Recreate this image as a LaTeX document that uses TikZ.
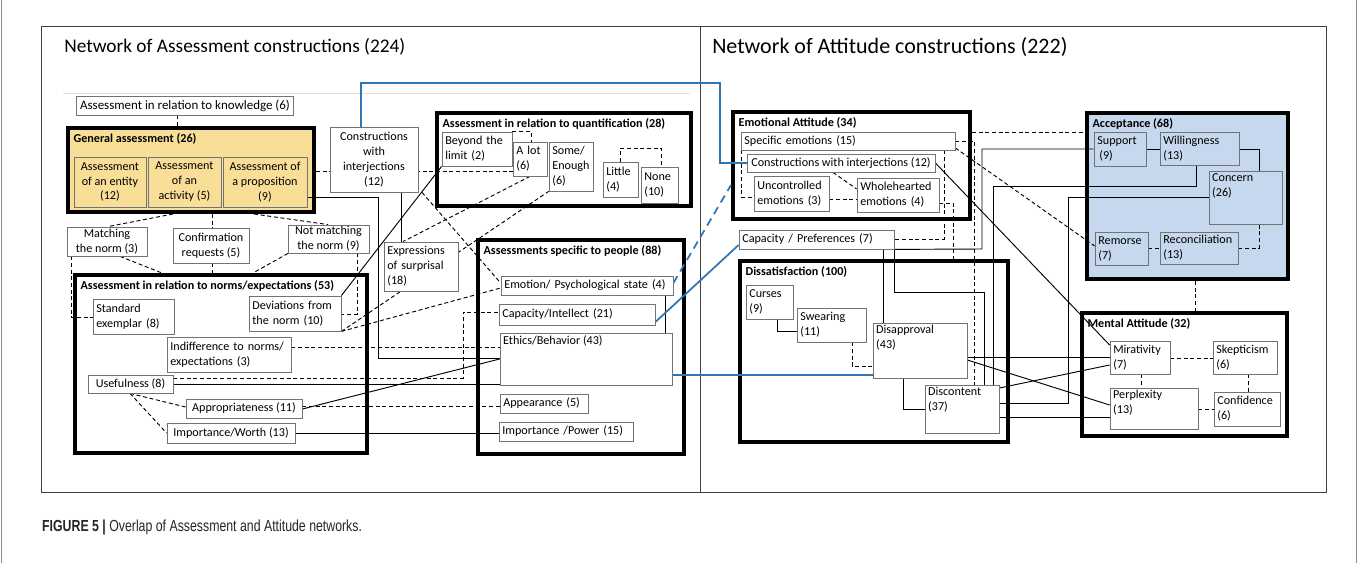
\documentclass[tikz,border=0pt]{standalone}
\usepackage{fontspec}
\setmainfont{Carlito}
\newfontfamily\capfont{Liberation Sans}
\hyphenpenalty=10000 \exhyphenpenalty=10000
\definecolor{ylw}{RGB}{249,222,152}
\definecolor{lblue}{RGB}{197,216,237}
\definecolor{bln}{RGB}{46,117,182}
\newcommand\lbl{\fontsize{9.1}{11.2}\selectfont}
\newcommand\lblb{\fontsize{9.1}{11.2}\selectfont\bfseries}
\pgfdeclarelayer{bg}\pgfdeclarelayer{fg}\pgfsetlayers{bg,main,fg}
\newcommand\bx[7][]{%
 \pgfmathsetmacro\bw{(#5-#3)*0.75}%
 \pgfmathsetmacro\bh{(#6-#4)*0.75}%
 \pgfmathsetmacro\tw{max(\bw-5,1)}%
 \node[bx,minimum width=\bw pt,minimum height=\bh pt,#1] (#2) at ({(#3+#5)/2},{(#4+#6)/2}) {#7};}
\tikzset{
 bx/.style={draw=black!55, line width=0.6pt, fill=white, inner xsep=2.5pt, inner ysep=1pt, align=center, font=\lbl},
 L/.style={text width=\tw pt, align=left},
 grp/.style={draw=black, line width=3pt},
 gt/.style={anchor=north west, font=\lblb, inner sep=0pt, xshift=5.5pt, yshift=-5.5pt},
 lt/.style={anchor=north west, font=\lbl, align=left, inner xsep=2.5pt, inner ysep=2pt},
 con/.style={line width=0.7pt, black},
 dsh/.style={con, dash pattern=on 3pt off 2pt},
 blu/.style={line width=1.3pt, draw=bln},
 bldash/.style={blu, dash pattern=on 6pt off 4pt},
 ttl/.style={anchor=west, inner sep=0pt},
}
\begin{document}
\begin{tikzpicture}[x=0.75pt,y=-0.75pt]
\useasboundingbox (0,0) rectangle (1357,563);
\begin{pgfonlayer}{bg}
\fill[white] (0,0) rectangle (1357,563);
\end{pgfonlayer}
\draw[black!45, line width=0.5pt] (1,0) -- (1,563) (1356,0) -- (1356,563);
\draw[black!75, line width=0.6pt] (41,26) rectangle (1326,492) (700,26) -- (700,492);
\draw[black!12, line width=0.6pt] (63,93) -- (690,93);
\node[ttl, font=\fontsize{14.5}{16}\selectfont] (t1) at (64,47) {Network of Assessment constructions (224)};
\node[ttl, font=\fontsize{16.5}{18}\selectfont] (t2) at (712,47) {Network of Attitude constructions (222)};

% groups
\begin{pgfonlayer}{bg}
\bx[grp, fill=ylw, label={[gt]north west:General assessment (26)}]{ga}{68}{128}{314}{212}{}
\bx[grp, fill=none, label={[gt]north west:Assessment in relation to quantification (28)}]{quant}{437}{113}{691}{206}{}
\bx[grp, fill=none, label={[gt]north west:Assessment in relation to norms/expectations (53)}]{norms}{75}{275}{367}{453}{}
\bx[grp, fill=none, label={[gt]north west:Assessments specific to people (88)}]{people}{478}{240}{684}{454}{}
\bx[grp, fill=none, label={[gt]north west:Emotional Attitude (34)}]{emot}{733}{112}{970}{219}{}
\bx[grp, fill=none, label={[gt]north west:Dissatisfaction (100)}]{dis}{740}{261}{1008}{442}{}
\bx[grp, fill=lblue, label={[gt]north west:Acceptance (68)}]{acc}{1087}{113}{1288}{279}{}
\bx[grp, fill=none, label={[gt]north west:Mental Attitude (32)}]{ment}{1082}{313}{1287}{436}{}
\end{pgfonlayer}

% boxes
\begin{pgfonlayer}{fg}
\bx[font=\fontsize{9.7}{12}\selectfont]{know}{77}{96}{293}{115}{Assessment in relation to knowledge (6)}
\bx[fill=ylw]{ent}{74}{157}{146}{207}{Assessment\\of an entity\\(12)}
\bx[fill=ylw]{act}{148}{157}{221}{207}{Assessment\\of an\\activity (5)}
\bx[fill=ylw]{prop}{223}{157}{307}{207}{Assessment of\\a proposition\\(9)}
\bx{cwiL}{330}{127}{418}{192}{Constructions\\with\\interjections\\(12)}
\bx[L]{beyond}{442}{132}{512}{166}{Beyond the\\limit (2)}
\bx[L]{alot}{513}{142}{547}{176}{A lot\\(6)}
\bx[L]{some}{549}{142}{593}{191}{Some/\\Enough\\(6)}
\bx[L]{little}{603}{162}{638}{197}{Little\\(4)}
\bx[L]{none}{641}{167}{678}{203}{None\\(10)}
\bx{match}{67}{227}{147}{256}{Matching\\the norm (3)}
\bx{confirm}{173}{228}{249}{263}{Confirmation\\requests (5)}
\bx{notmatch}{288}{225}{369}{253}{Not matching\\the norm (9)}
\bx[L]{std}{93}{299}{174}{334}{Standard\\exemplar (8)}
\bx[L]{dev}{249}{296}{341}{331}{Deviations from\\the norm (10)}
\bx[L]{indiff}{167}{337}{291}{372}{Indifference to norms/\\expectations (3)}
\bx{useful}{88}{375}{173}{393}{Usefulness (8)}
\bx{approp}{186}{399}{302}{418}{Appropriateness (11)}
\bx{impw}{167}{423}{295}{443}{Importance/Worth (13)}
\bx[L]{expr}{384}{242}{458}{291}{Expressions\\of surprisal\\(18)}
\bx[L]{emo}{501}{276}{673}{295}{Emotion/ Psychological state (4)}
\bx[L]{capi}{499}{304}{655}{325}{Capacity/Intellect (21)}
\bx[label={[lt]north west:Ethics/Behavior (43)}]{ethics}{500}{333}{672}{385}{}
\bx[L]{appear}{500}{394}{588}{413}{Appearance (5)}
\bx[L]{impp}{499}{422}{633}{441}{Importance /Power (15)}
\bx[L]{spec}{741}{132}{955}{150}{Specific emotions (15)}
\bx{cwiR}{747}{154}{935}{172}{Constructions with interjections (12)}
\bx[L]{unc}{754}{176}{829}{211}{Uncontrolled\\emotions (3)}
\bx[L]{whole}{857}{178}{939}{212}{Wholehearted\\emotions (4)}
\bx[L]{capp}{739}{230}{894}{249}{Capacity / Preferences (7)}
\bx[L]{curses}{746}{285}{793}{319}{Curses\\(9)}
\bx[L]{swear}{797}{308}{866}{342}{Swearing\\(11)}
\bx[label={[lt]north west:Disapproval\\(43)}]{disapp}{873}{323}{967}{378}{}
\bx[label={[lt]north west:Discontent\\(37)}]{discont}{925}{385}{999}{433}{}
\bx[L,fill=lblue]{support}{1094}{132}{1146}{166}{Support\\\,(9)}
\bx[L,fill=lblue]{will}{1160}{132}{1239}{165}{Willingness\\(13)}
\bx[fill=lblue,label={[lt]north west:Concern\\(26)}]{concern}{1209}{171}{1282}{224}{}
\bx[L,fill=lblue]{remorse}{1095}{232}{1148}{265}{Remorse\\(7)}
\bx[L,fill=lblue]{recon}{1160}{232}{1238}{264}{Reconciliation\\(13)}
\bx[L]{mir}{1110}{341}{1170}{374}{Mirativity\\(7)}
\bx[L]{skep}{1213}{341}{1277}{374}{Skepticism\\(6)}
\bx[label={[lt]north west:Perplexity\\(13)}]{perp}{1110}{388}{1198}{429}{}
\bx[L]{conf}{1214}{392}{1280}{426}{Confidence\\(6)}
\end{pgfonlayer}

% left connectors
\draw[dsh] (know.south -| 177,0) -- (ga.north -| 177,0);
\draw[dsh] (ga.south -| 173,0) -- (match.north -| 108,0);
\draw[dsh] (ga.south -| 212,0) -- (confirm.north -| 212,0);
\draw[dsh] (ga.south -| 254,0) -- (notmatch.north -| 328,0);
\draw[dsh] (match.south -| 120,0) -- (norms.north -| 162,0);
\draw[dsh] (confirm.south -| 212,0) -- (norms.north -| 212,0);
\draw[dsh] (notmatch.south -| 288,0) -- (norms.north -| 253,0);
\draw[dsh] (match.south -| 71,0) |- (std.west |- 0,317);
\draw[dsh] (notmatch.south -| 357,0) |- (dev.east |- 0,314);
\draw[dsh] (ga.east |- 0,171) -- (alot.west |- 0,171);
\draw[con] (prop.east |- 0,197) -| (378,358) -- (ethics.west |- 0,358);
\draw[con] (cwiL.south -| 401,0) -- (expr.north -| 401,0);
\draw[dsh] (cwiL.south -| 422,0) -- (emo.west |- 0,283);
\draw[con] (dev.north east) -- (beyond.south west);
\draw[dsh] (dev.south east) -- (emo.west |- 0,288);
\draw[dsh] (dev.south east) -- (some.south west);
\draw[dsh] (alot.south -| 530,0) -- (expr.north -| 403,0);
\draw[dsh] (indiff.east |- 0,347) -- (ethics.west |- 0,347);
\draw[dsh] (useful.east |- 0,378) -| (463,312) -- (capi.west |- 0,312);
\draw[con] (useful.east |- 0,384) -- (ethics.west |- 0,384);
\draw[dsh] (useful.south -| 130,0) -- (approp.west |- 0,407);
\draw[dsh] (useful.south -| 130,0) -- (impw.west |- 0,433);
\draw[con] (approp.east |- 0,409) -- (ethics.west |- 0,359);
\draw[dsh] (approp.east |- 0,406) -- (appear.west |- 0,406);
\draw[con] (impw.east |- 0,433) -- (impp.west |- 0,433);
\draw[dsh] (beyond.north east) -| (alot.north -| 531,0);
\draw[dsh] (little.north) |- (661,148) -- (none.north -| 661,0);
\draw[con] (emo.south -| 665,0) -- (ethics.north -| 665,0);

% blue links
\draw[blu] (cwiL.north -| 361,0) |- (720,83) |- (cwiR.west);
\draw[bldash] (emo.east |- 0,283) -- (emot.west |- 0,185);
\draw[blu] (capi.east |- 0,322) -- (capp.west |- 0,245);
\draw[blu] (ethics.east |- 0,375) -- (disapp.west |- 0,375);

% right connectors
\draw[dsh] (emot.east |- 0,132) -- (acc.west |- 0,132);
\draw[dsh] (spec.east |- 0,148) -- (remorse.west |- 0,246);
\draw[dsh] (spec.east |- 0,141) -| (discont.north -| 974,0);
\draw[dsh] (spec.south -| 944,0) |- (capp.east |- 0,239);
\draw[dsh] (whole.east |- 0,203) -| (dis.north -| 953,0);
\draw[con] (cwiR.east) -- (mir.west |- 0,345);
\draw[con] (support.west |- 0,149) -| (982,249) -- (capp.south east);
\draw[con] (capp.south east) |- (984,292) -- (discont.north -| 984,0);
\draw[con] (will.south -| 1196,0) |- (993,186) -- (discont.north -| 993,0);
\draw[con] (concern.west |- 0,197) -| (1068,403) -- (discont.east |- 0,403);
\draw[con] (capp.south -| 883,0) -- (disapp.north -| 883,0);
\draw[dsh] (swear.south -| 852,0) |- (disapp.west |- 0,366);
\draw[con] (curses.south -| 777,0) |- (swear.west |- 0,331);
\draw[con] (disapp.south -| 903,0) |- (discont.west |- 0,409);
\draw[con] (disapp.east |- 0,357) -- (mir.west |- 0,357);
\draw[con] (disapp.east |- 0,360) -- (perp.west |- 0,405);
\draw[con] (discont.east |- 0,388) -- (mir.west |- 0,365);
\draw[con] (discont.east |- 0,417) -- (perp.west |- 0,417);
\draw[con] (support.east |- 0,149) -- (will.west |- 0,149);
\draw[con] (will.east |- 0,149) -| (concern.north -| 1259,0);
\draw[dsh] (remorse.east |- 0,248) -- (recon.west |- 0,248);
\draw[dsh] (recon.east |- 0,248) -| (concern.south -| 1259,0);
\draw[dsh] (acc.south -| 1195,0) -- (ment.north -| 1195,0);
\draw[dsh] (mir.east |- 0,358) -- (skep.west |- 0,358);
\draw[dsh] (mir.south -| 1141,0) -- (perp.north -| 1141,0);
\draw[dsh] (skep.south -| 1248,0) -- (conf.north -| 1248,0);
\draw[dsh] (perp.east |- 0,409) -- (conf.west |- 0,409);
\draw[dsh] (unc.east |- 0,199) -- (whole.west |- 0,199);
\draw[dsh] (cwiR.south -| 833,0) -- (whole.west |- 0,189);
\draw[dsh] (spec.south -| 741,0) |- (unc.west |- 0,197);

\node[anchor=west, inner sep=0pt, font=\capfont\fontsize{12}{14}\selectfont, xscale=0.77, text=black!85] (cap) at (42,527) {\textbf{FIGURE 5 |} Overlap of Assessment and Attitude networks.};
\end{tikzpicture}
\end{document}
